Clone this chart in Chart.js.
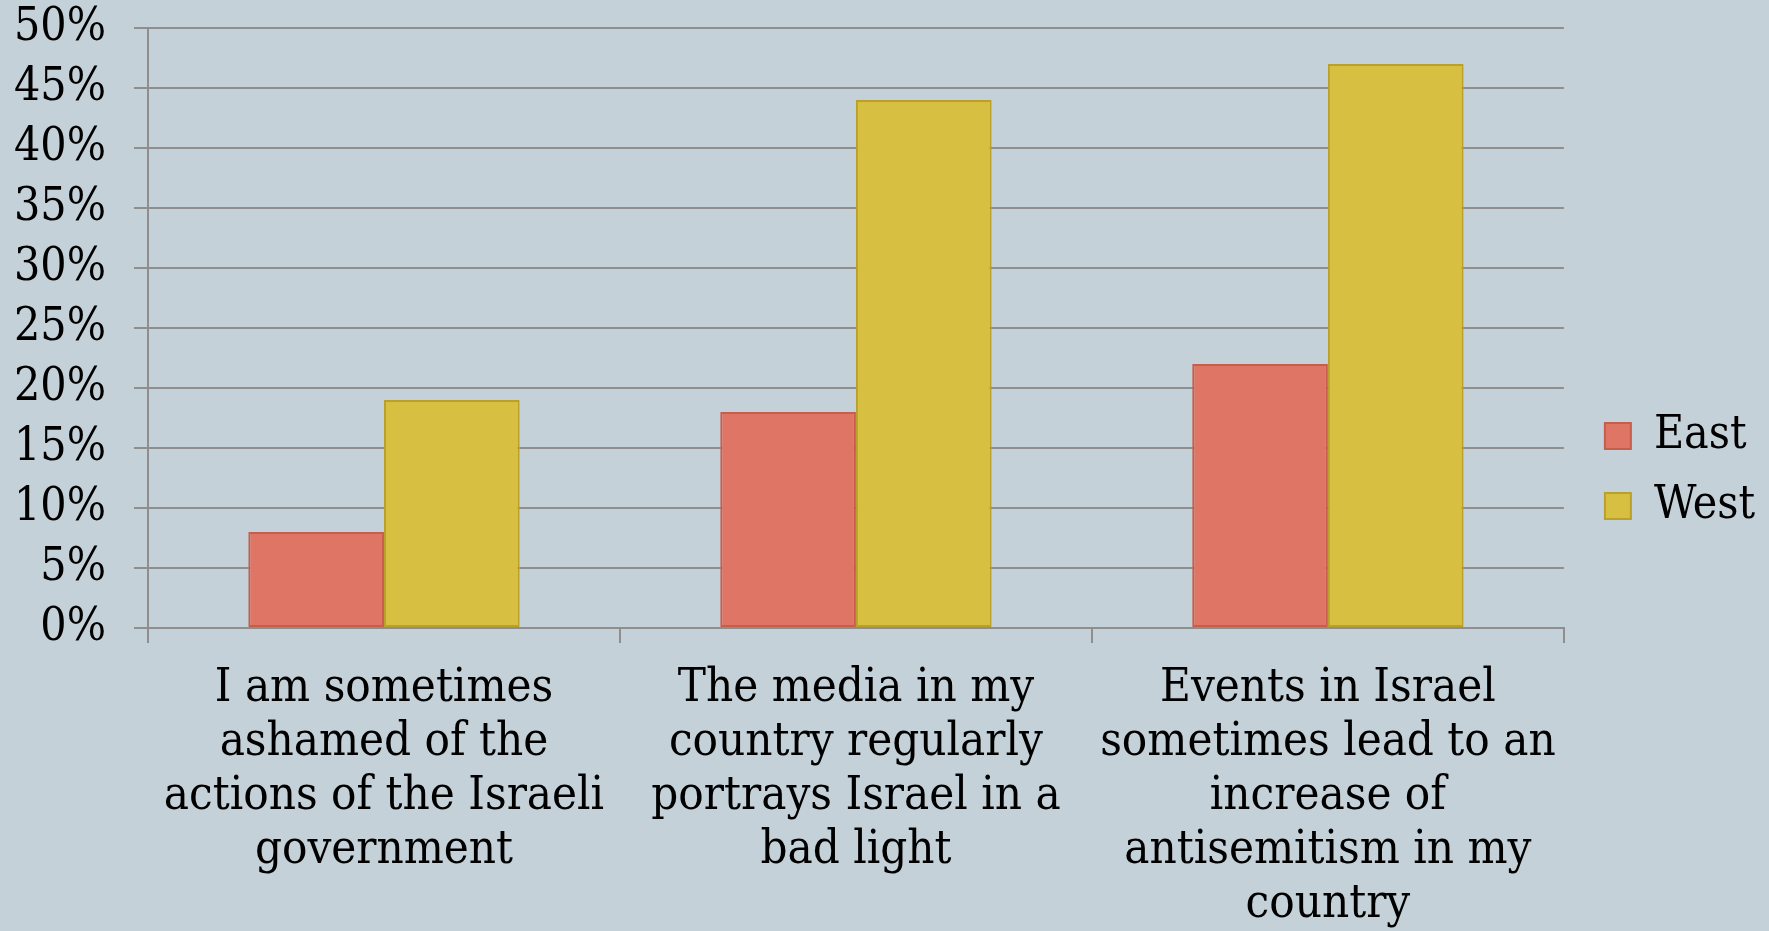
<!DOCTYPE html>
<html>
<head>
<meta charset="utf-8">
<script src="https://cdn.jsdelivr.net/npm/chart.js@4"></script>
<style>
    body { margin: 0; background: #c5d1d8; }
    #wrap { width: 1769px; height: 931px; position: relative; background: #c5d1d8; }
</style>
</head>
<body>
<div id="wrap"><canvas id="chart"></canvas></div>
<script>
// Chart data
const categories = [
    ['I am sometimes', 'ashamed of the', 'actions of the Israeli', 'government'],
    ['The media in my', 'country regularly', 'portrays Israel in a', 'bad light'],
    ['Events in Israel', 'sometimes lead to an', 'increase of', 'antisemitism in my', 'country']
];
const eastValues = [8, 18, 22];
const westValues = [19, 44, 47];
const yTicks = [0, 5, 10, 15, 20, 25, 30, 35, 40, 45, 50];

const fontFamily = '"DejaVu Serif Condensed", "DejaVu Serif", serif';
const gridColor = '#8e8e8e';
const textColor = '#000';

const chart = new Chart(document.getElementById('chart'), {
    type: 'bar',
    data: {
        labels: categories,
        datasets: [{
            label: 'East',
            data: eastValues,
            backgroundColor: '#df7665',
            borderColor: '#c65e4c',
            borderWidth: 2,
            borderSkipped: false
        }, {
            label: 'West',
            data: westValues,
            backgroundColor: '#d7bf42',
            borderColor: '#b9a02a',
            borderWidth: 2,
            borderSkipped: false
        }]
    },
    options: {
        responsive: true,
        maintainAspectRatio: false,
        animation: false,
        layout: {
            padding: { top: 11, right: 4, left: 0, bottom: 0 }
        },
        datasets: {
            bar: { categoryPercentage: 0.575, barPercentage: 1 }
        },
        plugins: {
            legend: {
                position: 'right',
                labels: {
                    boxWidth: 26,
                    boxHeight: 26,
                    padding: 24,
                    color: textColor,
                    font: { family: fontFamily, size: 46 }
                }
            },
            tooltip: { enabled: false }
        },
        scales: {
            x: {
                grid: {
                    drawOnChartArea: false,
                    color: gridColor,
                    lineWidth: 2,
                    tickLength: 15
                },
                border: { color: gridColor, width: 2 },
                ticks: {
                    color: textColor,
                    padding: 19,
                    maxRotation: 0,
                    autoSkip: false,
                    font: { family: fontFamily, size: 47, lineHeight: 1.15 }
                },
                afterFit: function(axis) { axis.height = 303; }
            },
            y: {
                min: 0,
                max: 50,
                afterBuildTicks: function(axis) {
                    axis.ticks = yTicks.map(v => ({ value: v }));
                },
                grid: {
                    color: gridColor,
                    lineWidth: 2,
                    tickLength: 14
                },
                border: { color: gridColor, width: 2 },
                ticks: {
                    color: textColor,
                    padding: 28,
                    autoSkip: false,
                    font: { family: fontFamily, size: 46 },
                    callback: v => v + '%'
                },
                afterFit: function(axis) {
                    axis.width = 148;
                    axis.paddingTop = 28;
                    axis.paddingBottom = 0;
                }
            },
            // empty spacer axis: gap between plot and legend
            gap: {
                position: 'right',
                grid: { display: false },
                border: { display: false },
                ticks: { display: false },
                afterFit: function(axis) { axis.width = 17; }
            }
        }
    }
});
</script>
</body>
</html>
